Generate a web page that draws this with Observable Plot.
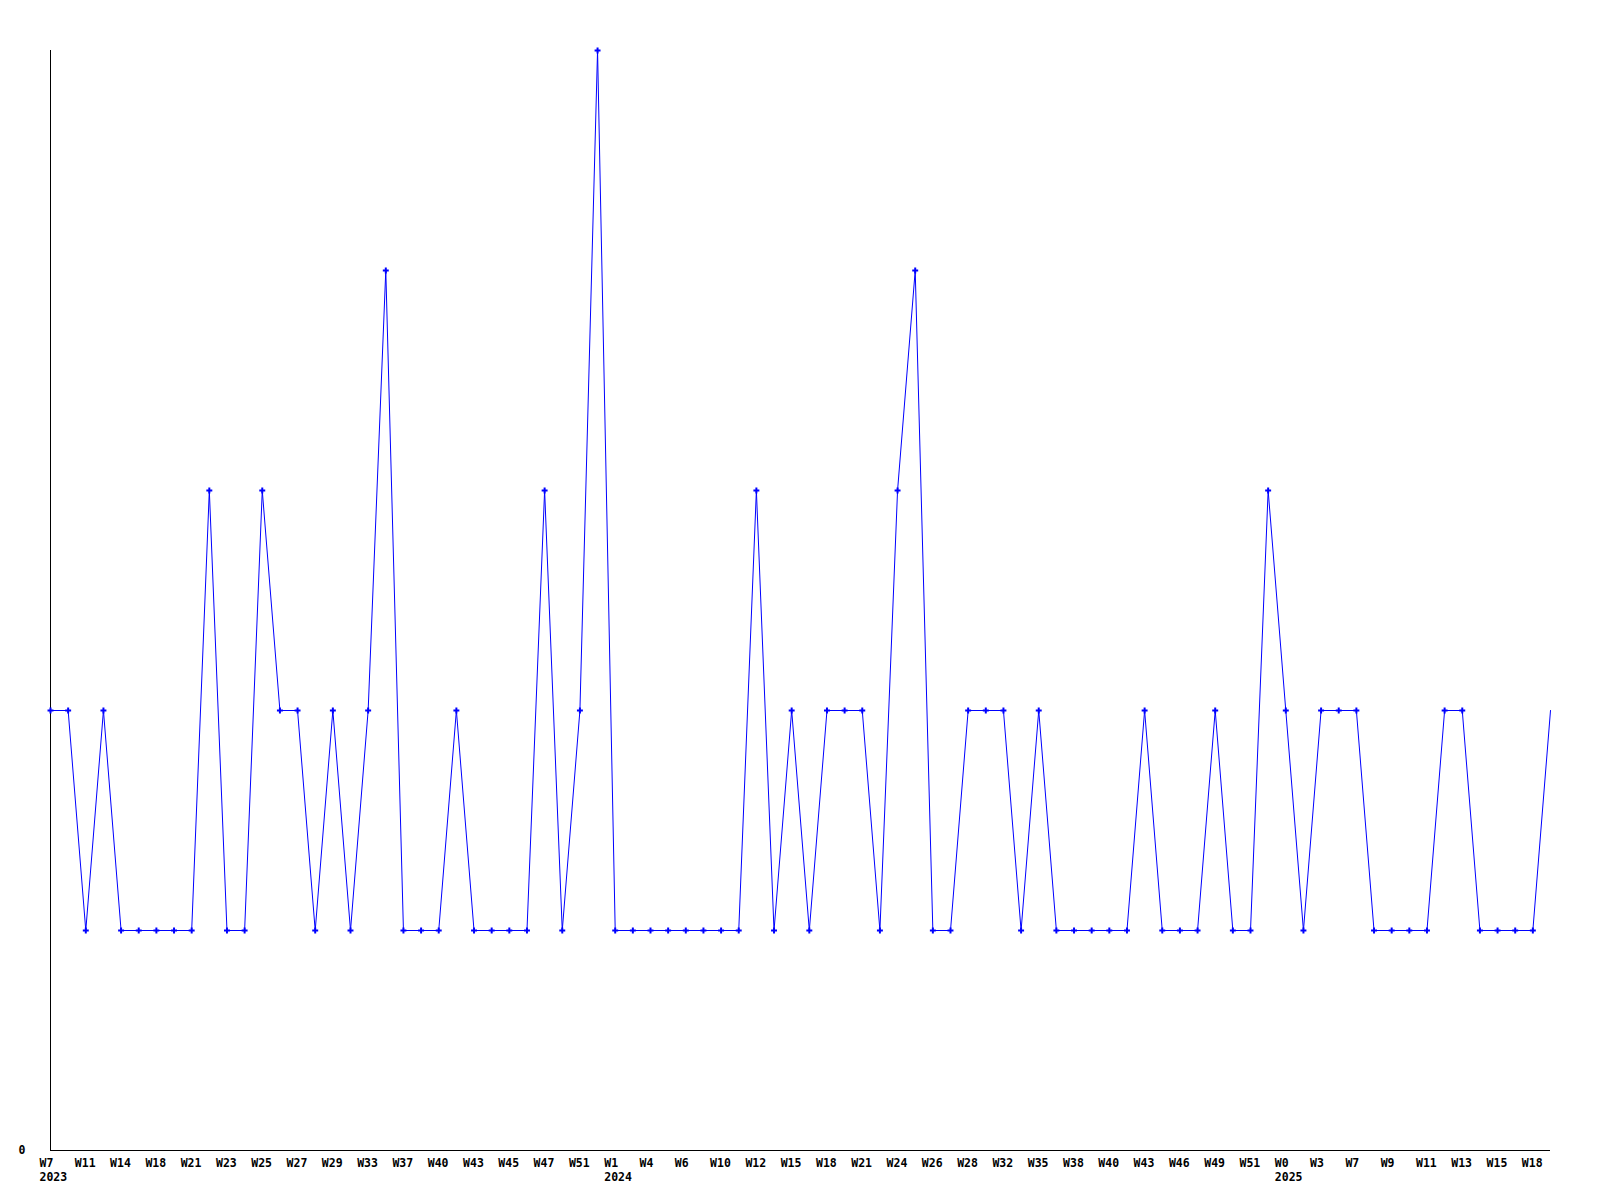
<!DOCTYPE html>
<html>
<head>
<meta charset="utf-8">
<script src="https://cdn.jsdelivr.net/npm/d3@7"></script>
<script src="https://cdn.jsdelivr.net/npm/@observablehq/plot@0.6"></script>
<style>
  html, body { margin: 0; padding: 0; background: #ffffff; }
</style>
</head>
<body>
<div id="chart"></div>
<script>
// Week categories (every other one is labelled on the axis)
const weeks2023 = ["W7","W9","W11","W13","W14","W16","W18","W20","W21","W22","W23","W24","W25","W26","W27","W28","W29","W31","W33","W35","W37","W39","W40","W42","W43","W44","W45","W46","W47","W49","W51","W52"];
const weeks2024 = ["W1","W3","W4","W5","W6","W8","W10","W11","W12","W14","W15","W17","W18","W20","W21","W23","W24","W25","W26","W27","W28","W30","W32","W34","W35","W37","W38","W39","W40","W42","W43","W45","W46","W48","W49","W50","W51","W52"];
const weeks2025 = ["W0","W2","W3","W5","W7","W8","W9","W10","W11","W12","W13","W14","W15","W17","W18","W19"];

// Weekly counts
const counts = [
  2,2,1,2,1,1,1,1,1,3,
  1,1,3,2,2,1,2,1,2,4,
  1,1,1,2,1,1,1,1,3,1,
  2,5,1,1,1,1,1,1,1,1,
  3,1,2,1,2,2,2,1,3,4,
  1,1,2,2,2,1,2,1,1,1,
  1,1,2,1,1,1,2,1,1,3,
  2,1,2,2,2,1,1,1,1,2,
  2,1,1,1,1,2
];

const yTicks = [0];

const categories = [
  ...weeks2023.map((w, i) => ({key: "2023 " + w, week: w, year: "2023", first: i === 0})),
  ...weeks2024.map((w, i) => ({key: "2024 " + w, week: w, year: "2024", first: i === 0})),
  ...weeks2025.map((w, i) => ({key: "2025 " + w, week: w, year: "2025", first: i === 0}))
];
const data = categories.map((c, i) => ({...c, value: counts[i]}));
const keys = categories.map(c => c.key);
const tickKeys = keys.filter((k, i) => i % 2 === 0);
const byKey = new Map(categories.map(c => [c.key, c]));
const fmt = k => { const c = byKey.get(k); return c.first ? c.week + "\n" + c.year : c.week; };

const chart = Plot.plot({
  width: 1600,
  height: 1200,
  marginLeft: 50,
  marginRight: 50,
  marginTop: 50,
  marginBottom: 50,
  style: {background: "#ffffff", fontFamily: "'DejaVu Sans Mono', monospace", fontWeight: "bold", fontSize: "11.5px", color: "#000"},
  x: {type: "point", domain: keys, padding: 0, inset: 0},
  y: {domain: [0, 5], inset: 0},
  marks: [
    Plot.ruleY([0], {stroke: "#000", strokeWidth: 1}),
    Plot.ruleX([keys[0]], {stroke: "#000", strokeWidth: 1}),
    Plot.line(data, {x: "key", y: "value", stroke: "#0000ff", strokeWidth: 1}),
    Plot.dot(data.slice(0, -1), {x: "key", y: "value", symbol: "cross", r: 2.5, fill: "#0000ff", stroke: "none"}),
    Plot.axisX({ticks: tickKeys, tickFormat: fmt, tickSize: 0, tickPadding: 6, textAnchor: "start", dx: -11, lineHeight: 1.27, label: null, fill: "#000"}),
    Plot.axisY({ticks: yTicks, tickFormat: d => String(d), tickSize: 0, tickPadding: 25, label: null, fill: "#000"})
  ]
});
document.getElementById("chart").appendChild(chart);
</script>
</body>
</html>
